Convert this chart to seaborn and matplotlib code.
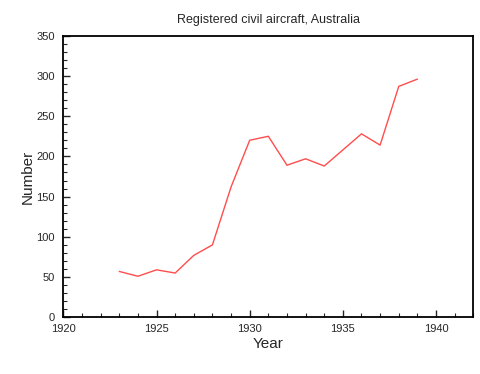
import pandas as pd
import seaborn as sns
import matplotlib.pyplot as plt
from matplotlib.ticker import MultipleLocator

# Registered civil aircraft in Australia
years = [1923, 1924, 1925, 1926, 1927, 1928, 1929, 1930, 1931,
         1932, 1933, 1934, 1935, 1936, 1937, 1938, 1939]
aircraft = [57, 51, 59, 55, 77, 90, 162, 220, 225,
            189, 197, 188, 208, 228, 214, 287, 296]

df = pd.DataFrame({'Year': years, 'Number': aircraft})

sns.set_style('ticks')
plt.rcParams['font.family'] = ['Liberation Sans', 'DejaVu Sans']

fig = plt.figure(figsize=(4.8, 3.74), dpi=100)
ax = fig.add_axes([0.132, 0.1516, 0.854, 0.753])

sns.lineplot(data=df, x='Year', y='Number', color='#ff4d4d', linewidth=1.0, ax=ax)

ax.set_xlim(1920, 1942)
ax.set_ylim(0, 350)
ax.xaxis.set_major_locator(MultipleLocator(5))
ax.xaxis.set_minor_locator(MultipleLocator(1))
ax.yaxis.set_major_locator(MultipleLocator(50))
ax.yaxis.set_minor_locator(MultipleLocator(10))
ax.tick_params(which='both', direction='in', top=False, right=False, labelsize=8)
ax.tick_params(which='major', length=5, width=1)
ax.tick_params(which='minor', length=3, width=0.8)
ax.tick_params(axis='x', which='major', pad=5)
ax.tick_params(axis='y', which='major', pad=6)

for s in ax.spines.values():
    s.set_linewidth(1.3)
    s.set_color('black')

ax.set_title('Registered civil aircraft, Australia', fontsize=9, pad=9)
ax.set_xlabel('Year', fontsize=11, labelpad=2)
ax.set_ylabel('Number', fontsize=11, labelpad=1)

fig.savefig('out.png', dpi=100)
